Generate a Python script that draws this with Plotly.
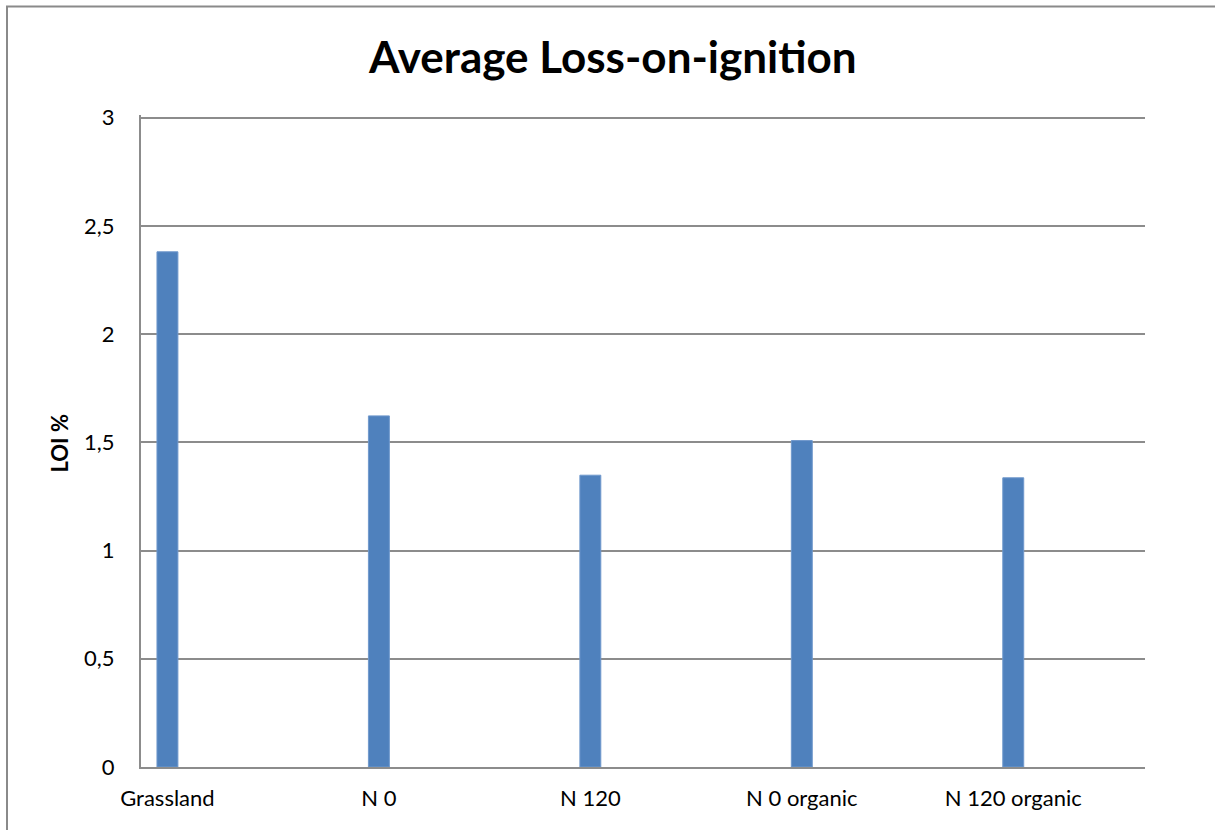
import plotly.graph_objects as go

categories = ["Grassland", "N 0", "N 120", "N 0 organic", "N 120 organic"]
loi_values = [2.38, 1.622, 1.348, 1.508, 1.336]
y_ticks = [0, 0.5, 1, 1.5, 2, 2.5, 3]
y_tick_labels = ["0", "0,5", "1", "1,5", "2", "2,5", "3"]

FONT = "Lato"
GRID = "#8c8c8c"
positions = list(range(len(categories)))

Y_MAX = 3.012
PLOT_H = 649.5 * Y_MAX / 3
TOP = 767.5 - PLOT_H

fig = go.Figure(
    go.Bar(
        x=positions,
        y=loi_values,
        width=0.099,
        marker=dict(color="#4F81BD", line=dict(color="#6f98cc", width=1)),
        hoverinfo="skip",
    )
)

fig.update_layout(
    width=1215,
    height=830,
    margin=dict(l=141, r=70, t=TOP, b=62.5),
    paper_bgcolor="white",
    plot_bgcolor="white",
    separators=",.",
    showlegend=False,
    font=dict(family=FONT, color="black", size=22),
    title=dict(
        text="<b>Average Loss-on-ignition</b>",
        font=dict(family=FONT, size=44, color="black"),
        x=0.470,
        xref="paper",
        xanchor="center",
        y=1 - 58 / 830,
        yref="container",
        yanchor="middle",
    ),
    xaxis=dict(
        range=[-0.125, 4.623],
        tickmode="array",
        tickvals=positions,
        ticktext=categories,
        showgrid=False,
        zeroline=False,
        showline=True,
        linecolor=GRID,
        linewidth=2,
        ticks="outside",
        ticklen=11,
        tickcolor="rgba(0,0,0,0)",
        tickfont=dict(family=FONT, size=22, color="black"),
        fixedrange=True,
    ),
    yaxis=dict(
        range=[0, Y_MAX],
        tickmode="array",
        tickvals=y_ticks,
        ticktext=y_tick_labels,
        showgrid=True,
        gridcolor=GRID,
        gridwidth=1.5,
        zeroline=False,
        showline=True,
        linecolor=GRID,
        linewidth=2,
        ticks="outside",
        ticklen=20,
        tickcolor="rgba(0,0,0,0)",
        tickfont=dict(family=FONT, size=22, color="black"),
        fixedrange=True,
    ),
    annotations=[
        dict(
            text="<b>LOI %</b>",
            x=-0.0807,
            y=(767.5 - 443) / PLOT_H,
            xref="paper",
            yref="paper",
            textangle=-90,
            showarrow=False,
            xanchor="center",
            yanchor="middle",
            font=dict(family=FONT, size=22, color="black"),
        )
    ],
    shapes=[
        dict(
            type="rect",
            xref="paper",
            yref="paper",
            x0=(7 - 141) / 1004,
            x1=(1230 - 141) / 1004,
            y0=(767.5 - 850) / PLOT_H,
            y1=(767.5 - 7) / PLOT_H,
            line=dict(color="#8a8a8a", width=2),
            fillcolor="rgba(0,0,0,0)",
            layer="below",
        )
    ],
)

fig.write_html("out.html")
